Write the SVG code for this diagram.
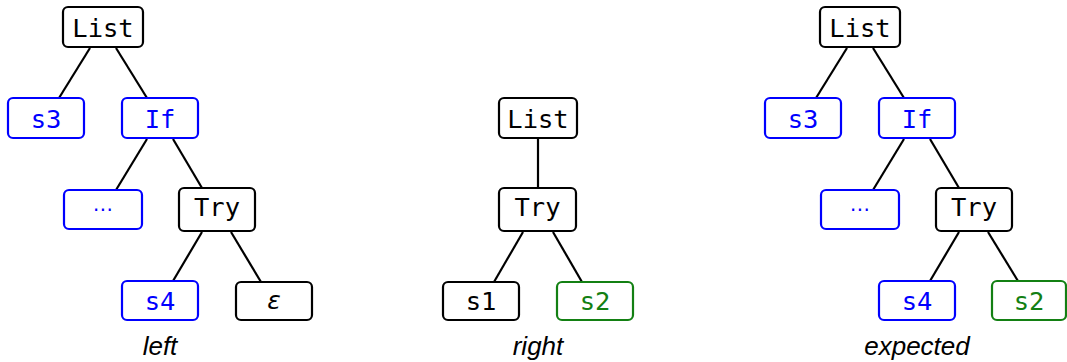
<svg xmlns="http://www.w3.org/2000/svg" width="1067" height="362" viewBox="0 0 1067 362">
  <style>
    .box { fill: #ffffff; stroke-width: 2.2; }
    .k { stroke: #000000; }
    .b { stroke: #0000ff; }
    .g { stroke: #138013; }
    .t { font-family: "DejaVu Sans Mono", "Liberation Mono", monospace; font-size: 25.5px; text-anchor: middle; }
    .tk { fill: #000000; }
    .tb { fill: #0000ff; }
    .tg { fill: #138013; }
    .dots { font-family: "DejaVu Sans", sans-serif; font-size: 20px; text-anchor: middle; fill: #0000ff; }
    .eps { font-family: "DejaVu Sans", sans-serif; font-style: oblique; font-size: 25px; text-anchor: middle; fill: #000000; }
    .cap { font-family: "Liberation Sans", Arial, sans-serif; font-style: italic; font-size: 26px; text-anchor: middle; fill: #000000; }
    .edges line { stroke: #000000; stroke-width: 2.2; }
  </style>

  <!-- connectors -->
  <g id="edges" class="edges">
    <!-- left tree -->
    <line x1="90" y1="48" x2="59" y2="98"/>
    <line x1="116" y1="48" x2="147" y2="98"/>
    <line x1="147" y1="139" x2="116" y2="190"/>
    <line x1="173" y1="139" x2="202" y2="188"/>
    <line x1="202" y1="232" x2="173" y2="281"/>
    <line x1="231" y1="232" x2="261" y2="282"/>
    <!-- middle tree -->
    <line x1="538" y1="138" x2="538" y2="188"/>
    <line x1="523" y1="232" x2="494" y2="282"/>
    <line x1="553" y1="232" x2="582" y2="282"/>
    <!-- right tree -->
    <line x1="847" y1="48" x2="816" y2="98"/>
    <line x1="873" y1="48" x2="904" y2="98"/>
    <line x1="904" y1="139" x2="873" y2="190"/>
    <line x1="930" y1="139" x2="959" y2="188"/>
    <line x1="959" y1="232" x2="930" y2="281"/>
    <line x1="988" y1="232" x2="1018" y2="281"/>
  </g>

  <!-- left tree -->
  <g id="l-list"><rect class="box k" x="63" y="7" width="80" height="40" rx="5"/><text class="t tk" x="103" y="37">List</text></g>
  <g id="l-s3"><rect class="box b" x="8" y="98" width="76" height="40" rx="5"/><text class="t tb" x="46" y="128">s3</text></g>
  <g id="l-if"><rect class="box b" x="122" y="98" width="76" height="40" rx="5"/><text class="t tb" x="160" y="128">If</text></g>
  <g id="l-dots"><rect class="box b" x="64" y="190" width="78" height="39" rx="5"/><text class="dots" x="103" y="216">⋯</text></g>
  <g id="l-try"><rect class="box k" x="179" y="188" width="76" height="43" rx="5"/><text class="t tk" x="217" y="216">Try</text></g>
  <g id="l-s4"><rect class="box b" x="122" y="281" width="76" height="39" rx="5"/><text class="t tb" x="160" y="310">s4</text></g>
  <g id="l-eps"><rect class="box k" x="236" y="282" width="76" height="38" rx="5"/><text class="eps" x="274" y="309">ε</text></g>
  <g id="l-caption"><text class="cap" x="160" y="355">left</text></g>

  <!-- middle tree -->
  <g id="m-list"><rect class="box k" x="499" y="98" width="78" height="40" rx="5"/><text class="t tk" x="538" y="128">List</text></g>
  <g id="m-try"><rect class="box k" x="499" y="188" width="77" height="43" rx="5"/><text class="t tk" x="537.5" y="216">Try</text></g>
  <g id="m-s1"><rect class="box k" x="443" y="282" width="76" height="38" rx="5"/><text class="t tk" x="481" y="310">s1</text></g>
  <g id="m-s2"><rect class="box g" x="557" y="282" width="76" height="38" rx="5"/><text class="t tg" x="595" y="310">s2</text></g>
  <g id="m-caption"><text class="cap" x="538" y="355">right</text></g>

  <!-- right tree -->
  <g id="r-list"><rect class="box k" x="820" y="7" width="80" height="40" rx="5"/><text class="t tk" x="860" y="37">List</text></g>
  <g id="r-s3"><rect class="box b" x="765" y="98" width="76" height="40" rx="5"/><text class="t tb" x="803" y="128">s3</text></g>
  <g id="r-if"><rect class="box b" x="879" y="98" width="76" height="40" rx="5"/><text class="t tb" x="917" y="128">If</text></g>
  <g id="r-dots"><rect class="box b" x="821" y="190" width="78" height="39" rx="5"/><text class="dots" x="860" y="216">⋯</text></g>
  <g id="r-try"><rect class="box k" x="936" y="188" width="76" height="43" rx="5"/><text class="t tk" x="974" y="216">Try</text></g>
  <g id="r-s4"><rect class="box b" x="879" y="281" width="76" height="39" rx="5"/><text class="t tb" x="917" y="310">s4</text></g>
  <g id="r-s2"><rect class="box g" x="992" y="281" width="74" height="39" rx="5"/><text class="t tg" x="1029" y="310">s2</text></g>
  <g id="r-caption"><text class="cap" x="917" y="355">expected</text></g>
</svg>
